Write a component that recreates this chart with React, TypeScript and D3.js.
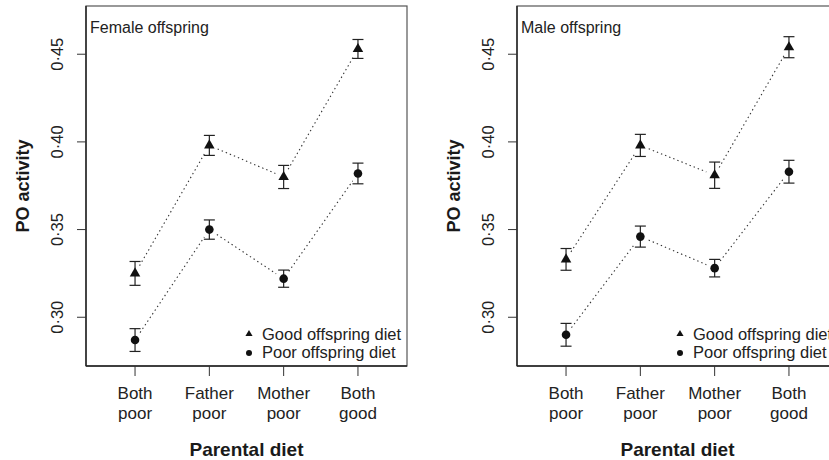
import React, { useEffect, useRef } from "react";
import * as d3 from "d3";

// parental diet categories (two-line labels)
const categories = [
  ["Both", "poor"],
  ["Father", "poor"],
  ["Mother", "poor"],
  ["Both", "good"],
];
const yTicks = [0.3, 0.35, 0.4, 0.45];

const femaleGood = [0.325, 0.398, 0.38, 0.453];
const femaleGoodSE = [0.0068, 0.0057, 0.0066, 0.0054];
const femalePoor = [0.287, 0.35, 0.322, 0.382];
const femalePoorSE = [0.0065, 0.0055, 0.0049, 0.0059];

const maleGood = [0.333, 0.398, 0.381, 0.454];
const maleGoodSE = [0.0062, 0.0063, 0.0075, 0.006];
const malePoor = [0.29, 0.346, 0.328, 0.383];
const malePoorSE = [0.0065, 0.006, 0.005, 0.0065];

const FONT = "'Liberation Sans', Arial, Helvetica, sans-serif";
const INK = "#1a1a1a";

function drawPanel(svg, left, title, good, goodSE, poor, poorSE) {
  const width = 321;
  const top = 6;
  const bottom = 366;
  const g = svg.append("g");

  const x = d3.scaleLinear().domain([0.34, 4.66]).range([left, left + width]);
  const y = d3.scaleLinear().domain([0.2722, 0.4775]).range([bottom, top]);

  // box
  g.append("rect")
    .attr("x", left)
    .attr("y", top)
    .attr("width", width)
    .attr("height", bottom - top)
    .attr("fill", "none")
    .attr("stroke", "#555")
    .attr("stroke-width", 1.2);

  // y axis
  g.append("line")
    .attr("x1", left).attr("x2", left)
    .attr("y1", top).attr("y2", bottom)
    .attr("stroke", "#222").attr("stroke-width", 1.4);
  yTicks.forEach((t) => {
    g.append("line")
      .attr("x1", left - 9).attr("x2", left)
      .attr("y1", y(t)).attr("y2", y(t))
      .attr("stroke", "#333").attr("stroke-width", 1);
    g.append("text")
      .attr("transform", `translate(${left - 23},${y(t)}) rotate(-90)`)
      .attr("text-anchor", "middle")
      .attr("font-size", 16.5)
      .attr("fill", "#222")
      .text(d3.format(".2f")(t).replace(".", "·"));
  });
  g.append("text")
    .attr("transform", `translate(${left - 57},${(top + bottom) / 2}) rotate(-90)`)
    .attr("text-anchor", "middle")
    .attr("font-size", 18)
    .attr("font-weight", "bold")
    .attr("fill", INK)
    .text("PO activity");

  // x axis
  g.append("line")
    .attr("x1", left).attr("x2", left + width)
    .attr("y1", bottom).attr("y2", bottom)
    .attr("stroke", "#222").attr("stroke-width", 1.4);
  categories.forEach((c, i) => {
    const cx = x(i + 1);
    g.append("line")
      .attr("x1", cx).attr("x2", cx)
      .attr("y1", bottom).attr("y2", bottom + 10)
      .attr("stroke", "#333").attr("stroke-width", 1);
    c.forEach((w, j) => {
      g.append("text")
        .attr("x", cx)
        .attr("y", 399 + j * 20)
        .attr("text-anchor", "middle")
        .attr("font-size", 17)
        .attr("fill", "#222")
        .text(w);
    });
  });
  g.append("text")
    .attr("x", left + width / 2)
    .attr("y", 456)
    .attr("text-anchor", "middle")
    .attr("font-size", 19)
    .attr("font-weight", "bold")
    .attr("fill", INK)
    .text("Parental diet");

  // panel title
  g.append("text")
    .attr("x", left + 4)
    .attr("y", 33)
    .attr("font-size", 16)
    .attr("fill", "#222")
    .text(title);

  const tri = d3.symbol(d3.symbolTriangle, 48);
  const triSmall = d3.symbol(d3.symbolTriangle, 22);

  [
    { vals: good, se: goodSE, shape: "tri" },
    { vals: poor, se: poorSE, shape: "circle" },
  ].forEach((s) => {
    const pts = s.vals.map((v, i) => [x(i + 1), y(v)]);
    // dotted connectors with a gap around each point
    for (let i = 0; i < pts.length - 1; i++) {
      const [x0, y0] = pts[i];
      const [x1, y1] = pts[i + 1];
      const len = Math.hypot(x1 - x0, y1 - y0);
      const ux = (x1 - x0) / len;
      const uy = (y1 - y0) / len;
      const gap = 9;
      g.append("path")
        .attr("d", d3.line()([
          [x0 + ux * gap, y0 + uy * gap],
          [x1 - ux * gap, y1 - uy * gap],
        ]))
        .attr("stroke", "#333")
        .attr("stroke-width", 1.1)
        .attr("stroke-dasharray", "1.4,3")
        .attr("fill", "none");
    }
    // error bars
    s.vals.forEach((v, i) => {
      const cx = x(i + 1);
      const y0 = y(v - s.se[i]);
      const y1 = y(v + s.se[i]);
      g.append("line")
        .attr("x1", cx).attr("x2", cx).attr("y1", y0).attr("y2", y1)
        .attr("stroke", "#222").attr("stroke-width", 1.2);
      [y0, y1].forEach((yy) => {
        g.append("line")
          .attr("x1", cx - 5.5).attr("x2", cx + 5.5).attr("y1", yy).attr("y2", yy)
          .attr("stroke", "#222").attr("stroke-width", 1.2);
      });
    });
    // markers
    pts.forEach(([px, py]) => {
      if (s.shape === "tri") {
        g.append("path")
          .attr("d", tri())
          .attr("transform", `translate(${px},${py})`)
          .attr("fill", "#111");
      } else {
        g.append("circle").attr("cx", px).attr("cy", py).attr("r", 4.3).attr("fill", "#111");
      }
    });
  });

  // legend (bottom right)
  const lx = left + width - 158;
  const lt = left + width - 145;
  g.append("path")
    .attr("d", triSmall())
    .attr("transform", `translate(${lx},334)`)
    .attr("fill", "#111");
  g.append("circle").attr("cx", lx).attr("cy", 353).attr("r", 3).attr("fill", "#111");
  g.append("text")
    .attr("x", lt).attr("y", 340)
    .attr("font-size", 16.5).attr("fill", "#222")
    .text("Good offspring diet");
  g.append("text")
    .attr("x", lt).attr("y", 358)
    .attr("font-size", 16.5).attr("fill", "#222")
    .text("Poor offspring diet");
}

export default function App() {
  const ref = useRef(null);

  useEffect(() => {
    const svg = d3.select(ref.current);
    svg.selectAll("*").remove();
    svg.attr("font-family", FONT);
    drawPanel(svg, 86, "Female offspring", femaleGood, femaleGoodSE, femalePoor, femalePoorSE);
    drawPanel(svg, 517, "Male offspring", maleGood, maleGoodSE, malePoor, malePoorSE);
  }, []);

  return (
    <svg
      ref={ref}
      width={829}
      height={460}
      style={{ position: "absolute", left: 0, top: 0, background: "#fff", display: "block" }}
    />
  );
}
